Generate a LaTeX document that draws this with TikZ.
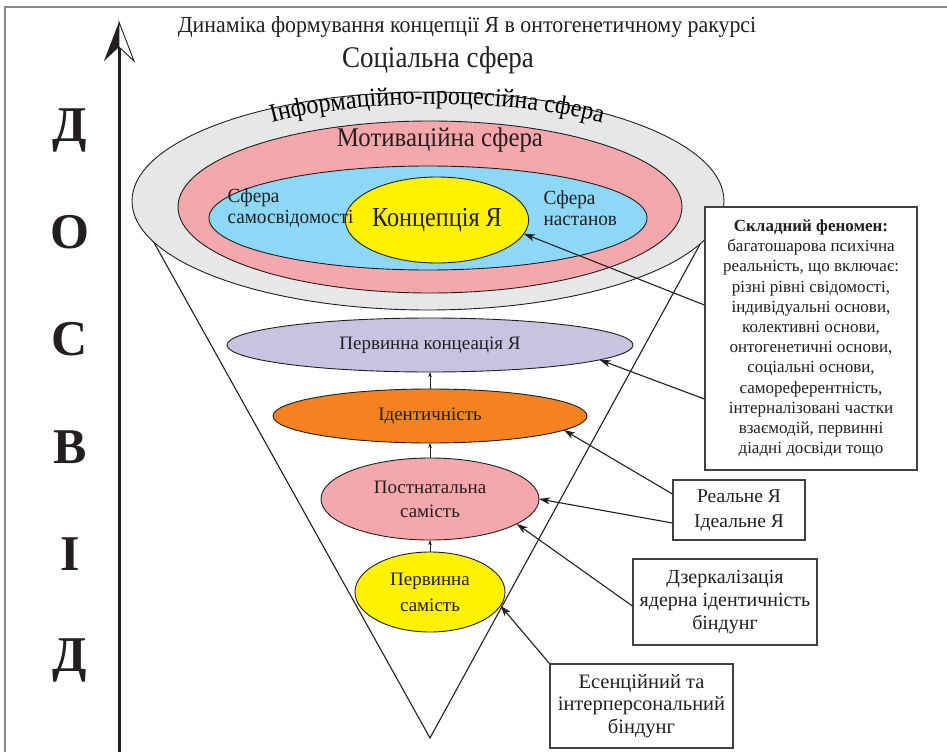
\documentclass[tikz,border=0pt]{standalone}
\usepackage{fontspec}
\setmainfont{Liberation Serif}
\newfontfamily\condfont{Liberation Serif}[FakeStretch=0.88]
\newfontfamily\titlefont{Liberation Serif}[FakeStretch=0.95]
\newfontfamily\socfont{Liberation Serif}[FakeStretch=0.9]
\newfontfamily\archfont{Liberation Serif}[FakeStretch=0.93]
\newfontfamily\motfont{Liberation Serif}[FakeStretch=0.92]
\newfontfamily\sferafont{Liberation Serif}[FakeStretch=0.96]
\usetikzlibrary{shapes.geometric,arrows.meta,decorations.text,calc}
\definecolor{ink}{HTML}{231F20}
\definecolor{boxline}{HTML}{404040}
\definecolor{framegray}{HTML}{8A8A8A}
\definecolor{grayfill}{HTML}{E6E7E8}
\definecolor{pinkfill}{HTML}{F5A8AB}
\definecolor{bluefill}{HTML}{8DD8F7}
\definecolor{yellowfill}{HTML}{FFF200}
\definecolor{purplefill}{HTML}{C7C3E1}
\definecolor{orangefill}{HTML}{F58220}
\newcommand\archtxtfont{\archfont\fontsize{26}{26}\selectfont}
\begin{document}
\begin{tikzpicture}[x=1pt,y=-1pt,
  ell/.style={ellipse, draw=ink, line width=0.9pt, inner sep=0pt, outer sep=0pt, text=ink, align=center},
  infobox/.style={draw=boxline, line width=1.2pt, fill=white, align=center, inner sep=2pt, text=ink},
  link/.style={draw=ink, line width=1.1pt, -{Stealth[length=11pt,width=7pt,inset=3pt]}},
  uplink/.style={draw=ink, line width=0.6pt, -{Stealth[length=5pt,width=3.5pt]}},
  bigletter/.style={font=\bfseries\fontsize{50}{50}\selectfont, text=ink},
  cone/.style={draw=ink, line width=1.1pt}
]
\useasboundingbox (0,0) rectangle (947,752);
\fill[white] (0,0) rectangle (947,752);
% frame
\draw[framegray, line width=1.6pt] (5,752) -- (5,7) -- (947,7);
% vertical arrow
\coordinate (shaftbot) at (119,752);
\coordinate (shafttop) at (119,45);
\draw[ink, line width=3pt] (shaftbot) -- (shafttop);
\fill[ink] (119,22) -- (104,61) -- (119,47) -- cycle;
\draw[ink, fill=white, line width=0.9pt, line join=miter] (119,22) -- (134,61) -- (119,47) -- cycle;
% letters
\node[bigletter] (l1) at (70,130) {Д};
\node[bigletter] (l2) at (70,232) {О};
\node[bigletter] (l3) at (70,339) {С};
\node[bigletter] (l4) at (70,447) {В};
\node[bigletter] (l5) at (70,554) {І};
\node[bigletter] (l6) at (70,660) {Д};
% titles
\node[text=ink, font=\titlefont\fontsize{23}{23}\selectfont] (title) at (467,27) {Динаміка формування концепції Я в онтогенетичному ракурсі};
\node[text=ink, font=\socfont\fontsize{30}{30}\selectfont] (social) at (438,60) {Соціальна сфера};
% cone
\coordinate (apex) at (430,738);
\draw[cone] (147,230) -- (apex) -- (710,226);
% big ellipses
\node[ell, fill=grayfill, minimum width=592pt, minimum height=218pt] (info) at (428,201) {};
\node[ell, fill=pinkfill, minimum width=504pt, minimum height=172pt] (motiv) at (430,207) {};
\node[ell, fill=bluefill, minimum width=438pt, minimum height=104pt] (selfs) at (428,218) {};
\node[ell, fill=yellowfill, minimum width=156pt, minimum height=86pt, font=\condfont\fontsize{27.5}{27.5}\selectfont] (conc) at (437,220) {Концепція Я};
\path[decorate, decoration={text along path, text={|\archtxtfont|Інформаційно-процесійна сфера}, text align=center}]
  (437-270,194) arc[start angle=180, end angle=0, x radius=270pt, y radius=90pt];
\node[text=ink, font=\motfont\fontsize{27}{27}\selectfont] (motivlbl) at (440,140) {Мотиваційна сфера};
\node[text=ink, anchor=west, align=left, font=\sferafont\fontsize{20}{21}\selectfont] (selflbl) at (224,208) {Сфера\\самосвідомості};
\node[text=ink, anchor=west, align=left, font=\sferafont\fontsize{20}{21}\selectfont] (attlbl) at (540,208) {Сфера\\настанов};
% lower ellipses
\node[ell, fill=purplefill, minimum width=406pt, minimum height=54pt, font=\fontsize{19}{20}\selectfont] (prim) at (430,345) {Первинна концеація Я};
\node[ell, fill=orangefill, minimum width=314pt, minimum height=54pt, font=\fontsize{19}{20}\selectfont] (ident) at (430,416) {Ідентичність};
\node[ell, fill=pinkfill, minimum width=218pt, minimum height=82pt, font=\fontsize{19}{24}\selectfont] (post) at (430,499) {Постнатальна\\самість};
\node[ell, fill=yellowfill, minimum width=150pt, minimum height=80pt, font=\fontsize{19}{26}\selectfont] (pself) at (430,592) {Первинна\\самість};
\draw[uplink] (pself.north) -- (post.south);
\draw[uplink] (post.north) -- (ident.south);
\draw[uplink] (ident.north) -- (prim.south);
% boxes
\node[infobox, minimum width=212pt, minimum height=263pt, font=\fontsize{17}{20.2}\selectfont] (b1) at (811,338.5)
 {\textbf{Складний феномен:}\\багатошарова психічна\\реальність, що включає:\\різні рівні свідомості,\\індивідуальні основи,\\колективні основи,\\онтогенетичні основи,\\соціальні основи,\\самореферентність,\\інтерналізовані частки\\взаємодій, первинні\\діадні досвіди тощо};
\node[infobox, minimum width=132pt, minimum height=60pt, font=\fontsize{19.5}{25}\selectfont] (b2) at (739,510) {Реальне Я\\Ідеальне Я};
\node[infobox, minimum width=184pt, minimum height=86pt, font=\fontsize{20}{23}\selectfont] (b3) at (725,602) {Дзеркалізація\\ядерна ідентичність\\біндунг};
\node[infobox, minimum width=183pt, minimum height=84pt, font=\fontsize{20.5}{22.5}\selectfont] (b4) at (641.5,706) {Есенційний та\\інтерперсональний\\біндунг};
% connectors
\draw[link] ([yshift=33.5pt]b1.west) -- (conc.-9);
\draw[link] ([yshift=-60.5pt]b1.west) -- (prim.-5);
\draw[link] ([yshift=16pt]b2.west) -- (ident.-6);
\draw[link] ([yshift=-13pt]b2.west) -- (post.east);
\draw[link] ([yshift=-4pt]b3.west) -- (post.-16);
\draw[link] (b4.north west) -- (pself.-11);
\end{tikzpicture}
\end{document}
